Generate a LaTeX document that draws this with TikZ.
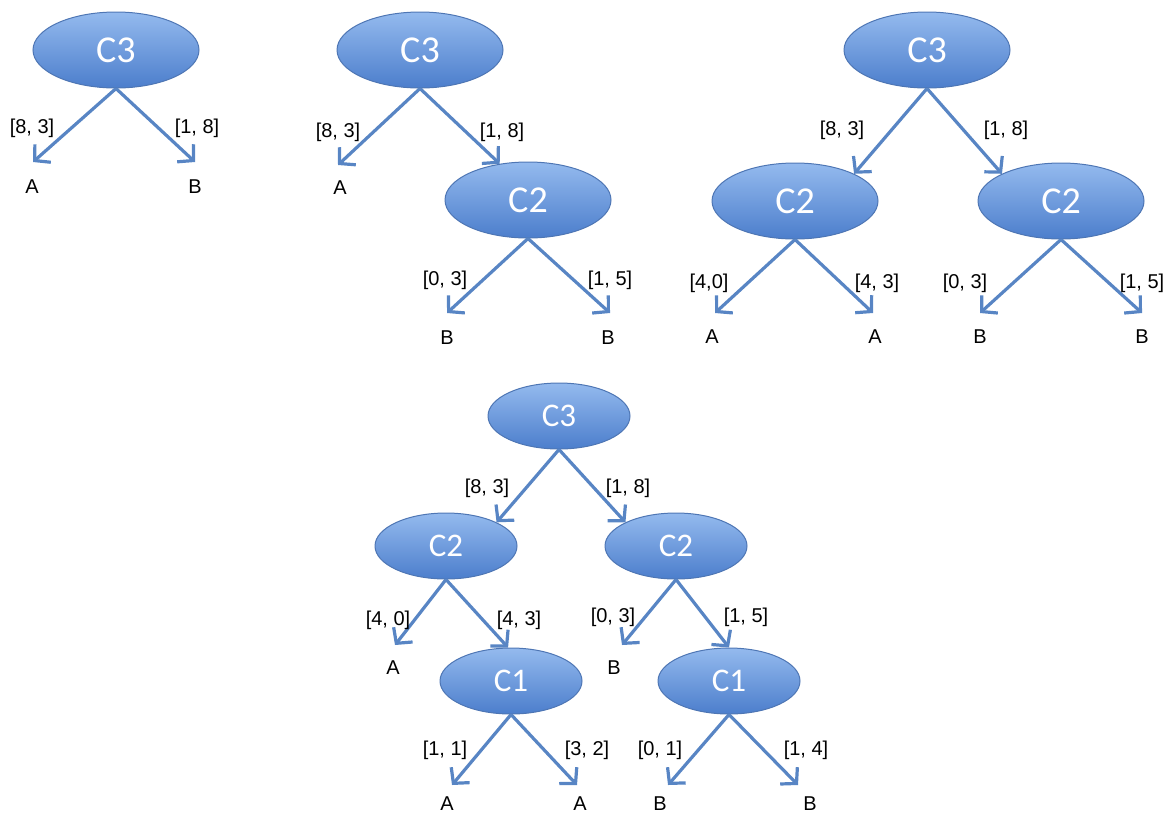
\documentclass[tikz,border=0pt]{standalone}
\usepackage{fontspec}
\setmainfont{Liberation Sans}
\newfontfamily\choicefont{Carlito}
\usetikzlibrary{arrows.meta,shapes.geometric}

\definecolor{nodetop}{RGB}{148,186,238}
\definecolor{nodebot}{RGB}{76,126,204}
\definecolor{nodeedge}{RGB}{78,118,180}
\definecolor{edgeblue}{RGB}{88,133,196}

\tikzset{
  choice/.style={ellipse, draw=nodeedge, line width=0.5pt, top color=nodetop, bottom color=nodebot,
    text=white, inner sep=0pt, minimum width=83pt, minimum height=38pt,
    font=\choicefont\fontsize{19}{19}\selectfont},
  small/.style={minimum width=71pt, minimum height=33pt, font=\choicefont\fontsize{16.5}{16.5}\selectfont},
  leaf/.style={font=\fontsize{10}{10}\selectfont, inner sep=1pt},
  cost/.style={font=\fontsize{10}{10}\selectfont, inner sep=1pt},
  branch/.style={draw=edgeblue, line width=1.6pt, -{Straight Barb[length=5.5pt, width=12pt]}}
}

\begin{document}
\begin{tikzpicture}[x=0.5pt, y=-0.5pt]
  \useasboundingbox (0,0) rectangle (1170,815);

  % first tree
  \node[choice] (aroot) at (116,50) {C3};
  \coordinate (aAt) at (33,162);
  \coordinate (aBt) at (195,162);
  \node[leaf] (aA) at (32,187) {A};
  \node[leaf] (aB) at (195,187) {B};
  \draw[branch] (aroot.south) -- (aAt);
  \draw[branch] (aroot.south) -- (aBt);
  \node[cost] (aAc) at (32,128) {[8, 3]};
  \node[cost] (aBc) at (197,128) {[1, 8]};

  % second tree
  \node[choice] (broot) at (420,50) {C3};
  \node[choice] (bC2) at (528,200) {C2};
  \coordinate (bAt) at (338,165);
  \node[leaf] (bA) at (340,188) {A};
  \draw[branch] (broot.south) -- (bAt);
  \draw[branch] (broot.south) -- (bC2.128);
  \node[cost] (bAc) at (338,132) {[8, 3]};
  \node[cost] (bCc) at (502,132) {[1, 8]};
  \coordinate (bB1t) at (447,313);
  \coordinate (bB2t) at (610,313);
  \node[leaf] (bB1) at (447,338) {B};
  \node[leaf] (bB2) at (608,338) {B};
  \draw[branch] (bC2.south) -- (bB1t);
  \draw[branch] (bC2.south) -- (bB2t);
  \node[cost] (bB1c) at (445,280) {[0, 3]};
  \node[cost] (bB2c) at (610,280) {[1, 5]};

  % third tree
  \node[choice] (croot) at (927,50) {C3};
  \node[choice] (cL) at (795,201) {C2};
  \node[choice] (cR) at (1061,201) {C2};
  \draw[branch] (croot.south) -- (cL.north east);
  \draw[branch] (croot.south) -- (cR.north west);
  \node[cost] (cLc) at (842,130) {[8, 3]};
  \node[cost] (cRc) at (1006,130) {[1, 8]};
  \coordinate (cA1t) at (715,313);
  \coordinate (cA2t) at (873,313);
  \coordinate (cB1t) at (980,313);
  \coordinate (cB2t) at (1142,313);
  \node[leaf] (cA1) at (712,337) {A};
  \node[leaf] (cA2) at (875,337) {A};
  \node[leaf] (cB1) at (980,337) {B};
  \node[leaf] (cB2) at (1142,337) {B};
  \draw[branch] (cL.south) -- (cA1t);
  \draw[branch] (cL.south) -- (cA2t);
  \draw[branch] (cR.south) -- (cB1t);
  \draw[branch] (cR.south) -- (cB2t);
  \node[cost] (cA1c) at (709,283) {[4,0]};
  \node[cost] (cA2c) at (877,283) {[4, 3]};
  \node[cost] (cB1c) at (965,283) {[0, 3]};
  \node[cost] (cB2c) at (1142,283) {[1, 5]};

  % fourth tree
  \node[choice, small] (droot) at (559,416) {C3};
  \node[choice, small] (dL) at (446,546) {C2};
  \node[choice, small] (dR) at (676,546) {C2};
  \draw[branch] (droot.south) -- (dL.north east);
  \draw[branch] (droot.south) -- (dR.north west);
  \node[cost] (dLc) at (487,488) {[8, 3]};
  \node[cost] (dRc) at (628,488) {[1, 8]};
  \node[choice, small] (dLL) at (511,681) {C1};
  \node[choice, small] (dRR) at (729,681) {C1};
  \coordinate (dAt) at (395,645);
  \coordinate (dBt) at (622,645);
  \node[leaf] (dA) at (393,668) {A};
  \node[leaf] (dB) at (614,668) {B};
  \draw[branch] (dL.south) -- (dAt);
  \draw[branch] (dL.south) -- (dLL.95);
  \draw[branch] (dR.south) -- (dBt);
  \draw[branch] (dR.south) -- (dRR.north);
  \node[cost] (dAc) at (388,620) {[4, 0]};
  \node[cost] (dLLc) at (519,620) {[4, 3]};
  \node[cost] (dBc) at (613,617) {[0, 3]};
  \node[cost] (dRRc) at (746,617) {[1, 5]};
  \coordinate (dA1t) at (452,785);
  \coordinate (dA2t) at (577,785);
  \coordinate (dB1t) at (668,785);
  \coordinate (dB2t) at (798,785);
  \node[leaf] (dA1) at (447,804) {A};
  \node[leaf] (dA2) at (580,804) {A};
  \node[leaf] (dB1) at (660,804) {B};
  \node[leaf] (dB2) at (810,804) {B};
  \draw[branch] (dLL.south) -- (dA1t);
  \draw[branch] (dLL.south) -- (dA2t);
  \draw[branch] (dRR.south) -- (dB1t);
  \draw[branch] (dRR.south) -- (dB2t);
  \node[cost] (dA1c) at (445,750) {[1, 1]};
  \node[cost] (dA2c) at (587,750) {[3, 2]};
  \node[cost] (dB1c) at (660,750) {[0, 1]};
  \node[cost] (dB2c) at (806,750) {[1, 4]};
\end{tikzpicture}
\end{document}
